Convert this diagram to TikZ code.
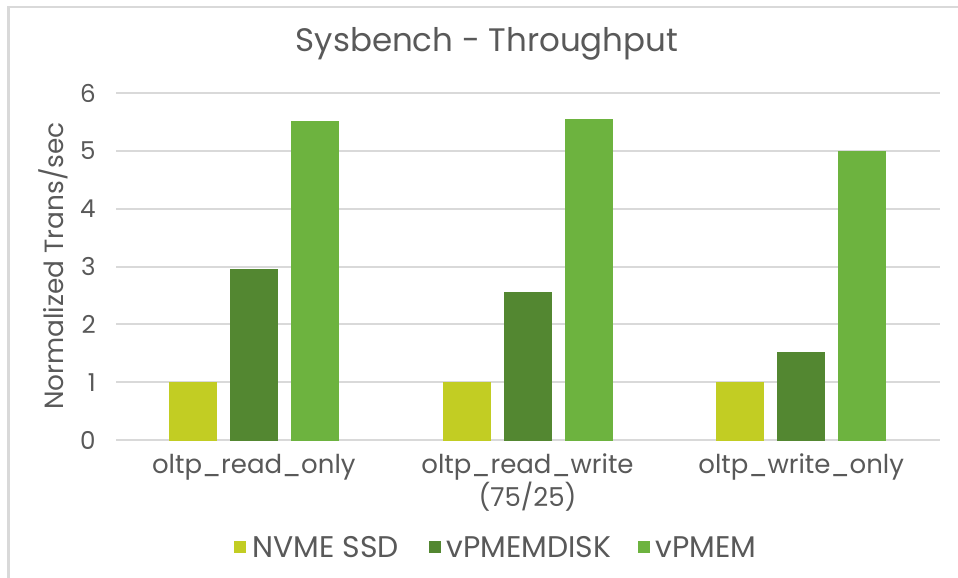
\documentclass[tikz,border=0pt]{standalone}
\usepackage{fontspec}
\setmainfont{Poppins}
\usepackage{tikz}

\definecolor{txtgray}{HTML}{595959}
\definecolor{gridgray}{HTML}{D9D9D9}
\definecolor{nvmecol}{HTML}{C2CD23}
\definecolor{diskcol}{HTML}{538731}
\definecolor{pmemcol}{HTML}{6DB33F}

\begin{document}
\begin{tikzpicture}[x=0.02cm,y=0.02cm,
    lbl/.style={text=txtgray,inner sep=0pt},
    bar/.style={draw=white,line width=0.4pt}]
    \useasboundingbox (0,0) rectangle (958,578);
    \fill[white] (0,0) rectangle (958,578);

    % chart frame
    \draw [gridgray,line width=1.2pt] (8.5,0) -- (8.5,571) -- (958,571);

    \node [lbl,font=\fontsize{18.5}{22}\selectfont] (title) at (487,534) {Sysbench - Throughput};

    % gridlines and tick labels
    \foreach \v in {0,...,6}{%
        \draw [gridgray,line width=1.1pt] (116,138+57.8*\v) -- (940,138+57.8*\v);
        \node [lbl,anchor=east,font=\fontsize{14}{16}\selectfont] (tick\v) at (96,138+57.8*\v) {\v};}

    \node [lbl,rotate=90,anchor=base,font=\fontsize{15}{18}\selectfont] (ylabel) at (63,312) {Normalized Trans/sec};

    % bars: group centre, NVME, vPMEMDISK, vPMEM
    \foreach \c/\a/\b/\d [count=\g] in {253.8/1/2.96/5.52, 527.5/1/2.56/5.55, 801.2/1/1.52/5.0}{%
        \fill [bar,nvmecol] (\c-84.5,138) rectangle (\c-37.5,138+57.8*\a);
        \fill [bar,diskcol] (\c-23.5,138) rectangle (\c+23.5,138+57.8*\b);
        \fill [bar,pmemcol] (\c+37.5,138) rectangle (\c+84.5,138+57.8*\d);}

    % category labels
    \begin{scope}[lbl,font=\fontsize{14.8}{17}\selectfont]
    \node (cat1) at (253.8,111) {oltp\_read\_only};
    \node (cat2) at (527.5,111) {oltp\_read\_write};
    \node (cat2b) at (527.5,81) {(75/25)};
    \node (cat3) at (801.2,111) {oltp\_write\_only};
    \end{scope}

    % legend
    \begin{scope}[font=\fontsize{17}{20}\selectfont]
    \fill [nvmecol] (234,25) rectangle (246,37);
    \node [lbl,anchor=west] (leg1) at (252,31) {NVME SSD};
    \fill [diskcol] (429,25) rectangle (441,37);
    \node [lbl,anchor=west] (leg2) at (446,31) {vPMEMDISK};
    \fill [pmemcol] (638,25) rectangle (650,37);
    \node [lbl,anchor=west] (leg3) at (655,31) {vPMEM};
    \end{scope}
\end{tikzpicture}
\end{document}
